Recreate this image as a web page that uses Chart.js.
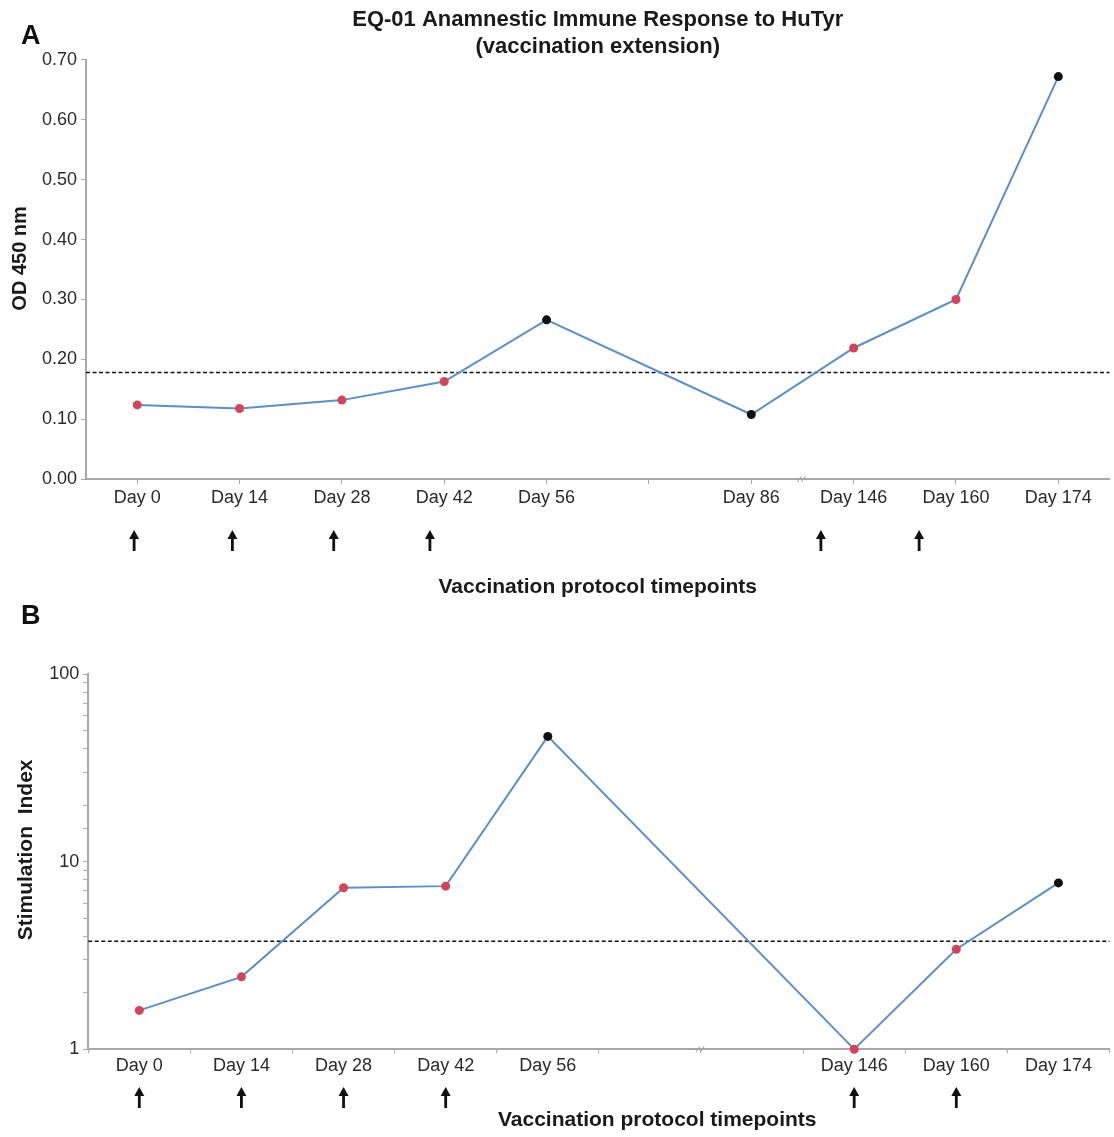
<!DOCTYPE html>
<html>
<head>
<meta charset="utf-8">
<script src="https://cdn.jsdelivr.net/npm/chart.js@4.4.1/dist/chart.umd.min.js"></script>
<style>
  body { margin: 0; background: #fff; }
  #wrapA { position: absolute; left: 0; top: 0; }
  #wrapB { position: absolute; left: 0; top: 600px; }
</style>
</head>
<body>
<div id="wrapA"><canvas id="chartA" width="1114" height="600"></canvas></div>
<div id="wrapB"><canvas id="chartB" width="1114" height="537"></canvas></div>
<script>
// panel A - ELISA OD
const labelsA = ['Day 0', 'Day 14', 'Day 28', 'Day 42', 'Day 56', '', 'Day 86', 'Day 146', 'Day 160', 'Day 174'];
const odValues = [0.124, 0.118, 0.132, 0.163, 0.266, null, 0.108, 0.219, 0.300, 0.672];
const vaccDayA = [true, true, true, true, false, false, false, true, true, false];
const cutoffA = 0.178;
const arrowsA = [-0.03, 0.93, 1.92, 2.86, 6.68, 7.64];
const yTicksA = [0, 0.1, 0.2, 0.3, 0.4, 0.5, 0.6, 0.7];

// panel B - stimulation index
const labelsB = ['Day 0', 'Day 14', 'Day 28', 'Day 42', 'Day 56', '', '', 'Day 146', 'Day 160', 'Day 174'];
const siValues = [1.61, 2.43, 7.25, 7.4, 46.5, null, null, 1.0, 3.41, 7.7];
const vaccDayB = [true, true, true, true, false, false, false, true, true, false];
const cutoffB = 3.76;
const arrowsB = [0, 1, 2, 3, 7, 8];
const yMajorB = [1, 10, 100];

const FONT = 'Liberation Sans, Arial, Helvetica, sans-serif';
const RED = '#d2445a';
const BLACK = '#111111';
const LINE = '#5b8fc9';
const AXIS = '#a8a8a8';

const decor = {
  id: 'decor',
  beforeDatasetsDraw(chart, args, opts) {
    const {ctx, chartArea, scales} = chart;
    const yc = scales.y.getPixelForValue(opts.cutoff);
    ctx.save();
    ctx.strokeStyle = '#111';
    ctx.lineWidth = 1.4;
    ctx.setLineDash([4, 2.5]);
    ctx.beginPath();
    ctx.moveTo(chartArea.left, yc);
    ctx.lineTo(chartArea.right, yc);
    ctx.stroke();
    ctx.restore();
  },
  afterDraw(chart, args, opts) {
    const {ctx, chartArea, scales} = chart;
    ctx.save();
    // panel letter
    ctx.fillStyle = '#111';
    ctx.font = 'bold 27px ' + FONT;
    ctx.textBaseline = 'middle';
    ctx.fillText(opts.letter, 21, opts.letterY);
    // vaccination arrows
    ctx.strokeStyle = '#111';
    ctx.fillStyle = '#111';
    opts.arrows.forEach(function (pos) {
      const x = scales.x.getPixelForValue(pos);
      const top = opts.arrowTop, bottom = opts.arrowTop + 21;
      ctx.lineWidth = 2.8;
      ctx.beginPath();
      ctx.moveTo(x, bottom);
      ctx.lineTo(x, top + 6);
      ctx.stroke();
      ctx.beginPath();
      ctx.moveTo(x, top);
      ctx.lineTo(x - 5, top + 9);
      ctx.lineTo(x + 5, top + 9);
      ctx.closePath();
      ctx.fill();
    });
    // axis break mark
    const bx = scales.x.getPixelForValue(opts.breakAt);
    const by = chartArea.bottom;
    ctx.strokeStyle = '#999';
    ctx.lineWidth = 1;
    ctx.beginPath();
    ctx.moveTo(bx - 5, by + 3); ctx.lineTo(bx - 1, by - 3);
    ctx.moveTo(bx - 1, by + 3); ctx.lineTo(bx + 3, by - 3);
    ctx.stroke();
    ctx.restore();
  }
};

const chartA = new Chart(document.getElementById('chartA'), {
  type: 'line',
  data: {
    labels: labelsA,
    datasets: [{
      data: odValues,
      borderColor: LINE,
      borderWidth: 2,
      spanGaps: true,
      tension: 0,
      clip: false,
      pointRadius: 4.5,
      pointBorderWidth: 0,
      pointBackgroundColor: vaccDayA.map(v => v ? RED : BLACK)
    }]
  },
  options: {
    responsive: false,
    animation: false,
    events: [],
    layout: { padding: { left: 0, right: 0, top: 0, bottom: 0 } },
    plugins: {
      legend: { display: false },
      tooltip: { enabled: false },
      title: {
        display: true,
        fullSize: false,
        text: ['EQ-01 Anamnestic Immune Response to HuTyr', '(vaccination extension)'],
        color: '#1a1a1a',
        font: { family: FONT, size: 22, weight: 'bold', lineHeight: 1.2 },
        padding: { top: 7, bottom: 0 }
      },
      decor: { letter: 'A', letterY: 37, cutoff: cutoffA, arrows: arrowsA, arrowTop: 530, breakAt: 6.5 }
    },
    scales: {
      x: {
        type: 'category',
        offset: true,
        grid: { display: true, offset: false, drawOnChartArea: false, drawTicks: true, tickLength: 5, color: AXIS },
        border: { color: AXIS, width: 2 },
        ticks: { color: '#2a2a2a', padding: 3, font: { family: FONT, size: 18 }, maxRotation: 0, autoSkip: false },
        title: {
          display: true,
          text: 'Vaccination protocol timepoints',
          color: '#1a1a1a',
          font: { family: FONT, size: 21, weight: 'bold' },
          padding: { top: 63, bottom: 0 }
        }
      },
      y: {
        min: 0,
        max: 0.7,
        afterBuildTicks: function (axis) { axis.ticks = yTicksA.map(v => ({ value: v })); },
        grid: { display: true, drawOnChartArea: false, drawTicks: true, tickLength: 5, color: AXIS },
        border: { color: AXIS, width: 2 },
        ticks: {
          color: '#2a2a2a',
          padding: 4,
          font: { family: FONT, size: 18 },
          callback: v => v.toFixed(2)
        },
        title: {
          display: true,
          text: '    OD 450 nm',
          color: '#1a1a1a',
          font: { family: FONT, size: 20, weight: 'bold' },
          padding: { top: 8, bottom: 6 }
        }
      }
    }
  },
  plugins: [decor]
});

const chartB = new Chart(document.getElementById('chartB'), {
  type: 'line',
  data: {
    labels: labelsB,
    datasets: [{
      data: siValues,
      borderColor: LINE,
      borderWidth: 2,
      spanGaps: true,
      tension: 0,
      clip: false,
      pointRadius: 4.5,
      pointBorderWidth: 0,
      pointBackgroundColor: vaccDayB.map(v => v ? RED : BLACK)
    }]
  },
  options: {
    responsive: false,
    animation: false,
    events: [],
    layout: { padding: { left: 0, right: 0, top: 74, bottom: 4 } },
    plugins: {
      legend: { display: false },
      tooltip: { enabled: false },
      decor: { letter: 'B', letterY: 17, cutoff: cutoffB, arrows: arrowsB, arrowTop: 487, breakAt: 5.5 }
    },
    scales: {
      x: {
        type: 'category',
        offset: true,
        grid: { display: true, offset: true, drawOnChartArea: false, drawTicks: true, tickLength: 4, color: AXIS },
        border: { color: AXIS, width: 2 },
        ticks: { color: '#2a2a2a', padding: 2, font: { family: FONT, size: 18 }, maxRotation: 0, autoSkip: false },
        title: {
          display: true,
          text: '                    Vaccination protocol timepoints',
          color: '#1a1a1a',
          font: { family: FONT, size: 21, weight: 'bold' },
          padding: { top: 29, bottom: 0 }
        }
      },
      y: {
        type: 'logarithmic',
        min: 1,
        max: 100,
        grid: { display: true, drawOnChartArea: false, drawTicks: true, tickLength: 5, color: AXIS },
        border: { color: AXIS, width: 2 },
        ticks: {
          color: '#2a2a2a',
          padding: 4,
          autoSkip: false,
          font: { family: FONT, size: 18 },
          callback: v => yMajorB.includes(v) ? String(v) : ''
        },
        title: {
          display: true,
          text: '    Stimulation  Index',
          color: '#1a1a1a',
          font: { family: FONT, size: 21, weight: 'bold' },
          padding: { top: 14, bottom: 6 }
        }
      }
    }
  },
  plugins: [decor]
});
</script>
</body>
</html>
